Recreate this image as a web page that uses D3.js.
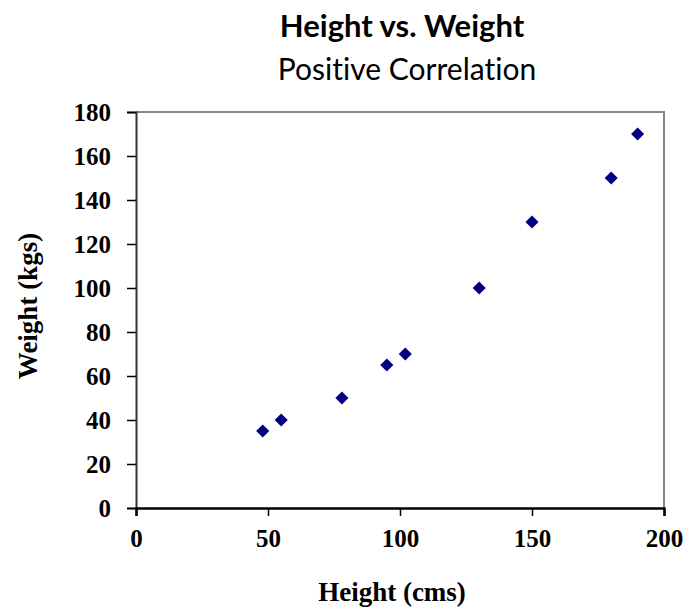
<!DOCTYPE html>
<html>
<head>
<meta charset="utf-8">
<script src="https://cdn.jsdelivr.net/npm/d3@7"></script>
<style>
  body { margin: 0; background: #fff; }
  text { font-variant-ligatures: none; }
</style>
</head>
<body>
<div id="chart"></div>
<script>
// values
const heights = [48, 55, 78, 95, 102, 130, 150, 180, 190];
const weights = [35, 40, 50, 65, 70, 100, 130, 150, 170];
const xTicks = [0, 50, 100, 150, 200];
const yTicks = [0, 20, 40, 60, 80, 100, 120, 140, 160, 180];

const width = 685, height = 607;
const plotLeft = 136, plotRight = 664, plotTop = 112, plotBottom = 508;
const serif = "Liberation Serif, Times New Roman, serif";
const sans = "Lato, Open Sans, sans-serif";

const svg = d3.select("#chart").append("svg")
  .attr("width", width)
  .attr("height", height);

const x = d3.scaleLinear().domain([0, 200]).range([plotLeft, plotRight]);
const y = d3.scaleLinear().domain([0, 180]).range([plotBottom, plotTop]);

// frame: top and right in gray
svg.append("path")
  .attr("d", `M${plotLeft},${plotTop}H${plotRight}V${plotBottom}`)
  .attr("fill", "none")
  .attr("stroke", "#868686")
  .attr("stroke-width", 2);

// y axis
const yAxis = svg.append("g")
  .attr("transform", `translate(${plotLeft},0)`)
  .call(d3.axisLeft(y).tickValues(yTicks).tickSize(9).tickPadding(16));
yAxis.select(".domain").attr("stroke", "#333").attr("stroke-width", 2);
yAxis.selectAll(".tick line").attr("stroke", "#000").attr("stroke-width", 1.5);
yAxis.selectAll("text")
  .attr("font-family", serif)
  .attr("font-weight", "bold")
  .attr("font-size", 25)
  .attr("fill", "#000");

// x axis
const xAxis = svg.append("g")
  .attr("transform", `translate(0,${plotBottom})`)
  .call(d3.axisBottom(x).tickValues(xTicks).tickSize(8).tickPadding(13));
xAxis.select(".domain").attr("stroke", "#000").attr("stroke-width", 2.5);
xAxis.selectAll(".tick line").attr("stroke", "#000").attr("stroke-width", 1.5);
xAxis.selectAll("text")
  .attr("font-family", serif)
  .attr("font-weight", "bold")
  .attr("font-size", 25)
  .attr("fill", "#000");

// points
const pts = heights.map((h, i) => ({h: h, w: weights[i]}));
svg.append("g").selectAll("path")
  .data(pts)
  .enter()
  .append("path")
  .attr("d", d3.symbol().type(d3.symbolDiamond2).size(110))
  .attr("transform", d => `translate(${x(d.h)},${y(d.w)})`)
  .attr("fill", "#000080");

// titles
svg.append("text")
  .attr("x", 402).attr("y", 37)
  .attr("text-anchor", "middle")
  .attr("font-family", sans)
  .attr("font-weight", "bold")
  .attr("font-size", 31)
  .text("Height vs. Weight");

svg.append("text")
  .attr("x", 407).attr("y", 80)
  .attr("text-anchor", "middle")
  .attr("font-family", sans)
  .attr("font-size", 30)
  .text("Positive Correlation");

// axis titles
svg.append("text")
  .attr("x", 392).attr("y", 601)
  .attr("text-anchor", "middle")
  .attr("font-family", serif)
  .attr("font-weight", "bold")
  .attr("font-size", 27)
  .text("Height (cms)");

svg.append("text")
  .attr("transform", "translate(37,306) rotate(-90)")
  .attr("text-anchor", "middle")
  .attr("font-family", serif)
  .attr("font-weight", "bold")
  .attr("font-size", 27)
  .text("Weight (kgs)");
</script>
</body>
</html>
